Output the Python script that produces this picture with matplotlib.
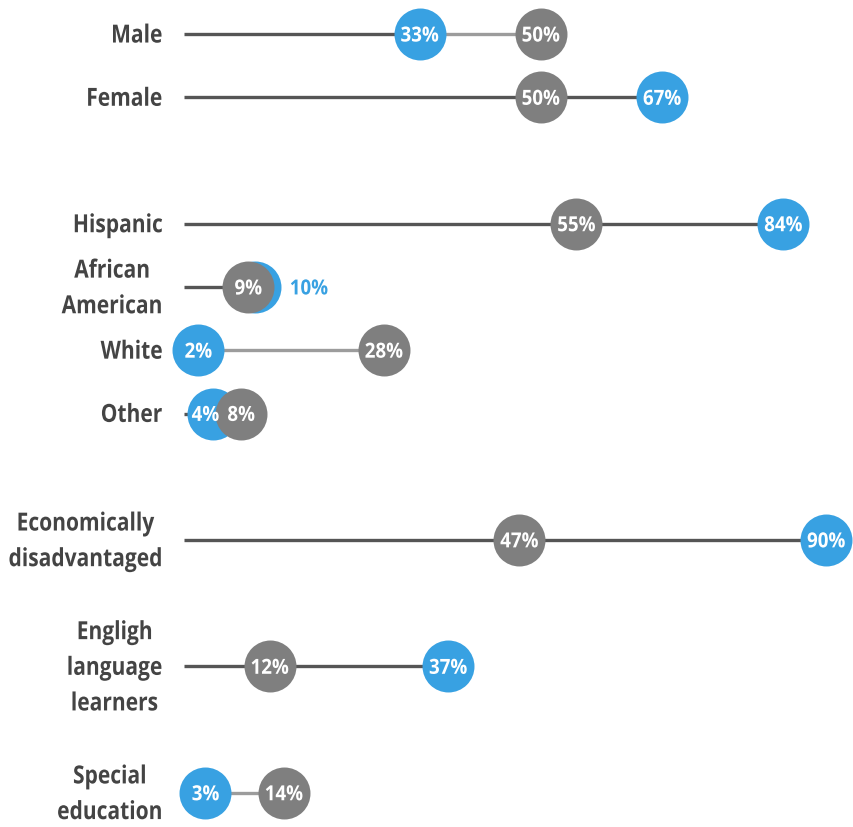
import matplotlib.pyplot as plt
from matplotlib import patheffects
from matplotlib.transforms import Affine2D

labels = ['Male', 'Female', 'Hispanic', 'African\nAmerican', 'White', 'Other',
          'Economically\ndisadvantaged', 'Engligh\nlanguage\nlearners',
          'Special\neducation']
rows = [0, 1, 3, 4, 5, 6, 8, 10, 12]
school = [33, 67, 84, 10, 2, 4, 90, 37, 3]
district = [50, 50, 55, 9, 28, 8, 47, 12, 14]

BLUE = '#38a1e2'
GRAY = '#7f7f7f'
DARK = '#555555'
LIGHT = '#9c9c9c'
TEXT = '#444444'

plt.rcParams['font.family'] = ['Open Sans', 'DejaVu Sans']


class Squeeze(patheffects.AbstractPathEffect):
    """Narrows glyphs sideways, around a fixed pixel x or each line's centre."""

    def __init__(self, sx, anchor=None):
        super().__init__()
        self.sx = sx
        self.anchor = anchor

    def draw_path(self, renderer, gc, tpath, affine, rgbFace=None):
        if self.anchor is None:
            ext = tpath.get_extents()
            cx = (ext.x0 + ext.x1) / 2
            tr = Affine2D().translate(-cx, 0).scale(self.sx, 1).translate(cx, 0) + affine
        else:
            a = self.anchor
            tr = affine + Affine2D().translate(-a, 0).scale(self.sx, 1).translate(a, 0)
        renderer.draw_path(gc, tpath, tr, rgbFace)


LAB_SX = 0.84
VAL_SX = 0.9


def main():
    fig = plt.figure(figsize=(8.54, 8.27), dpi=100)
    ax = fig.add_axes([0, 0, 1, 1])
    ax.set_xlim(-25.8, 93.9)
    ax.set_ylim(12.54, -0.54)
    ax.axis('off')
    renderer = fig.canvas.get_renderer()
    x0 = ax.transData.transform((0, 0))[0]
    ppu = ax.transData.transform((1, 0))[0] - x0
    right = x0 - 3.0 * ppu

    for lab, y, s, d in zip(labels, rows, school, district):
        lo, hi = min(s, d), max(s, d)
        ax.plot([0, lo], [y, y], color=DARK, lw=2.4, zorder=1, solid_capstyle='butt')
        ax.plot([lo, hi], [y, y], color=LIGHT if s < d else DARK, lw=2.4,
                zorder=1, solid_capstyle='butt')
        t = ax.text(0, y + 0.03, lab, ha='left', va='center', multialignment='center',
                    fontsize=18, fontweight='bold', color=TEXT, linespacing=1.56)
        # narrowed block keeps its left edge, so it ends at `right`
        w = t.get_window_extent(renderer).width
        left = right - LAB_SX * w
        t.set_x((left - x0) / ppu)
        t.set_path_effects([Squeeze(LAB_SX, left)])

    ax.scatter(school, rows, s=1400, color=BLUE, zorder=2, linewidths=0)
    ax.scatter(district, rows, s=1400, color=GRAY, zorder=3, linewidths=0)

    val = dict(va='center', fontsize=15, fontweight='bold',
               path_effects=[Squeeze(VAL_SX)])
    for y, s, d in zip(rows, school, district):
        if abs(s - d) <= 2 and s > d:
            # too close to fit inside, put the blue value beside its dot
            ax.text(s + 7.5, y + 0.03, f'{s}%', ha='center', color=BLUE, zorder=5, **val)
        else:
            sx = s - 1 if abs(s - d) < 7 else s
            ax.text(sx, y + 0.03, f'{s}%', ha='center', color='white', zorder=4, **val)
        ax.text(d, y + 0.03, f'{d}%', ha='center', color='white', zorder=5, **val)

    fig.savefig('out.png', dpi=100)


if __name__ == '__main__':
    main()
